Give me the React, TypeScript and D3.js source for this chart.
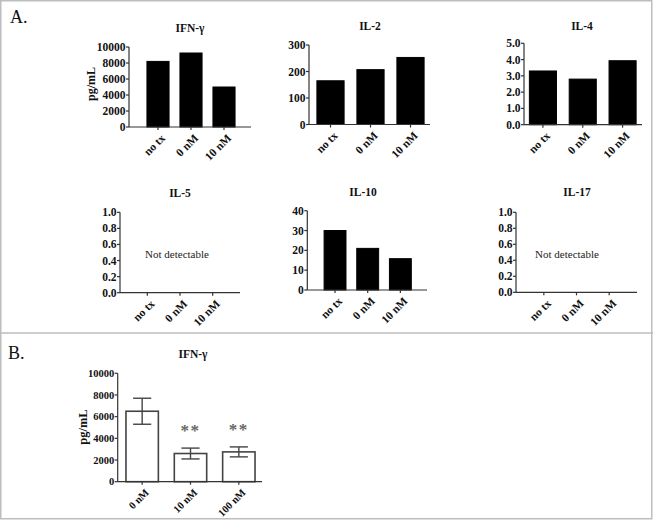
import React from "react";
import * as d3 from "d3";

// ---------- data ----------
const catsA = ["no tx", "0 nM", "10 nM"];
const catsB = ["0 nM", "10 nM", "100 nM"];

const ifngA = [8200, 9250, 5000];
const il2 = [165, 207, 253];
const il4 = [3.3, 2.8, 3.93];
const il10 = [30, 21, 15.8];

const ticksIfn = [0, 2000, 4000, 6000, 8000, 10000];
const ticksIl2 = [0, 100, 200, 300];
const ticksIl4 = [0, 1, 2, 3, 4, 5];
const ticksIl10 = [0, 10, 20, 30, 40];
const ticksND = [0, 0.2, 0.4, 0.6, 0.8, 1.0];

const ifngBMean = [6500, 2600, 2750];
const ifngBErr = [1200, 500, 460];
const ifngBSig = ["", "**", "**"];

// ---------- layout ----------
type PanelCfg = {
  title: string;
  cats: string[];
  values: number[] | null;
  errs?: number[];
  sig?: string[];
  ticks: number[];
  fmt: (v: number) => string;
  ax: number;
  axEnd: number;
  b0: number;
  b1: number;
  pad: number;
  y0: number;
  yTop: number;
  titleX: number;
  titleY: number;
  yLabel?: { x: number; y: number; size: number };
  hollow?: boolean;
  nd?: { x: number; y: number };
  labelSize?: number;
};

const intFmt = d3.format("d");
const f1 = d3.format(".1f");

const panels: PanelCfg[] = [
  {
    title: "IFN-γ", cats: catsA, values: ifngA, ticks: ticksIfn, fmt: intFmt,
    ax: 129, axEnd: 251, b0: 141.5, b1: 240.5, pad: 0.33, y0: 127, yTop: 47,
    titleX: 190, titleY: 32, yLabel: { x: 95, y: 84, size: 12 },
  },
  {
    title: "IL-2", cats: catsA, values: il2, ticks: ticksIl2, fmt: intFmt,
    ax: 309, axEnd: 430, b0: 310.5, b1: 430.5, pad: 0.32, y0: 124.5, yTop: 45,
    titleX: 370, titleY: 30,
  },
  {
    title: "IL-4", cats: catsA, values: il4, ticks: ticksIl4, fmt: f1,
    ax: 524, axEnd: 642, b0: 523, b1: 642.5, pad: 0.32, y0: 124.7, yTop: 43.3,
    titleX: 582, titleY: 30,
  },
  {
    title: "IL-5", cats: catsA, values: null, ticks: ticksND, fmt: f1,
    ax: 120, axEnd: 240, b0: 131, b1: 229, pad: 0.32, y0: 292.7, yTop: 212.3,
    titleX: 180, titleY: 197, nd: { x: 177, y: 258 },
  },
  {
    title: "IL-10", cats: catsA, values: il10, ticks: ticksIl10, fmt: intFmt,
    ax: 307.3, axEnd: 427, b0: 318.7, b1: 416.7, pad: 0.33, y0: 290, yTop: 210.7,
    titleX: 363, titleY: 196,
  },
  {
    title: "IL-17", cats: catsA, values: null, ticks: ticksND, fmt: f1,
    ax: 516, axEnd: 637, b0: 527.5, b1: 625.5, pad: 0.32, y0: 292.3, yTop: 212.3,
    titleX: 577, titleY: 196, nd: { x: 567, y: 258 },
  },
  {
    title: "IFN-γ", cats: catsB, values: ifngBMean, errs: ifngBErr, sig: ifngBSig,
    ticks: ticksIfn, fmt: intFmt,
    ax: 117.7, axEnd: 262, b0: 118, b1: 263, pad: 0.33, y0: 481.7, yTop: 373.3,
    titleX: 193, titleY: 358, yLabel: { x: 87, y: 427, size: 12.5 }, hollow: true,
    labelSize: 10.5,
  },
];

const FONT = "'Liberation Serif', 'Times New Roman', serif";
const AXIS = "#333";

function Panel({ p }: { p: PanelCfg }) {
  const y = d3.scaleLinear().domain([0, p.ticks[p.ticks.length - 1]]).range([p.y0, p.yTop]);
  const x = d3.scaleBand<string>().domain(p.cats).range([p.b0, p.b1]).paddingInner(p.pad).paddingOuter(p.pad / 2);
  const ls = p.labelSize ?? 11.5;
  return (
    <g fontFamily={FONT}>
      <text x={p.titleX} y={p.titleY} textAnchor="middle" fontWeight="bold" fontSize={11.5} fill="#111">
        {p.title}
      </text>
      {p.yLabel && (
        <text
          transform={`translate(${p.yLabel.x},${p.yLabel.y}) rotate(-90)`}
          textAnchor="middle"
          fontWeight="bold"
          fontSize={p.yLabel.size}
          fill="#111"
        >
          pg/mL
        </text>
      )}
      {p.values &&
        p.values.map((v, i) => {
          const bx = x(p.cats[i])!;
          return (
            <rect
              key={i}
              x={bx}
              y={y(v)}
              width={x.bandwidth()}
              height={p.y0 - y(v)}
              fill={p.hollow ? "#fff" : "#000"}
              stroke={p.hollow ? "#444" : "#000"}
              strokeWidth={p.hollow ? 1.6 : 1}
            />
          );
        })}
      {p.values && p.errs &&
        p.values.map((v, i) => {
          const cx = x(p.cats[i])! + x.bandwidth() / 2;
          const e = p.errs![i];
          const w = x.bandwidth() * 0.28;
          return (
            <g key={i} stroke="#444" strokeWidth={1.4} fill="none">
              <line x1={cx} x2={cx} y1={y(v + e)} y2={y(v - e)} />
              <line x1={cx - w} x2={cx + w} y1={y(v + e)} y2={y(v + e)} />
              <line x1={cx - w} x2={cx + w} y1={y(v - e)} y2={y(v - e)} />
            </g>
          );
        })}
      {p.values && p.errs && p.sig &&
        p.sig.map((s, i) => {
          const cx = x(p.cats[i])! + x.bandwidth() / 2;
          const top = y(p.values![i] + p.errs![i]);
          return s ? (
            <text key={i} x={cx} y={top - 12} textAnchor="middle" fontSize={17} fontWeight="bold" fill="#666" letterSpacing={1.5}>
              {s}
            </text>
          ) : null;
        })}
      <line x1={p.ax} x2={p.ax} y1={p.yTop} y2={p.y0} stroke={AXIS} strokeWidth={1.2} />
      {p.ticks.map((t) => (
        <g key={t}>
          <line x1={p.ax - 3} x2={p.ax} y1={y(t)} y2={y(t)} stroke={AXIS} strokeWidth={1.2} />
          <text x={p.ax - 3.5} y={y(t)} dy="0.35em" textAnchor="end" fontSize={ls} fontWeight="bold" fill="#111">
            {p.fmt(t)}
          </text>
        </g>
      ))}
      <line x1={p.ax} x2={p.axEnd} y1={p.y0} y2={p.y0} stroke={AXIS} strokeWidth={1.2} />
      {p.cats.map((c) => {
        const cx = x(c)! + x.bandwidth() / 2;
        return (
          <g key={c}>
            <line x1={cx} x2={cx} y1={p.y0} y2={p.y0 + 3} stroke={AXIS} strokeWidth={1.2} />
            <text
              transform={`translate(${cx + 3},${p.y0 + 7}) rotate(-45)`}
              textAnchor="end"
              dy="0.6em"
              fontSize={ls}
              fontWeight="bold"
              fill="#111"
            >
              {c}
            </text>
          </g>
        );
      })}
      {p.nd && (
        <text x={p.nd.x} y={p.nd.y} textAnchor="middle" fontSize={11} fill="#222">
          Not detectable
        </text>
      )}
    </g>
  );
}

export default function App() {
  return (
    <svg
      width={653}
      height={520}
      style={{ position: "absolute", left: 0, top: 0, background: "#fff" }}
    >
      <rect x={0} y={0} width={653} height={520} fill="#fff" />
      <rect x={0.75} y={0.75} width={651} height={518} fill="none" stroke="#bdbdbd" strokeWidth={1.5} />
      <line x1={0} x2={653} y1={333} y2={333} stroke="#bdbdbd" strokeWidth={1.5} />
      <text x={10} y={23} fontFamily={FONT} fontSize={18} fill="#111">A.</text>
      <text x={8} y={359} fontFamily={FONT} fontSize={18} fill="#111">B.</text>
      {panels.map((p, i) => (
        <Panel key={i} p={p} />
      ))}
    </svg>
  );
}
